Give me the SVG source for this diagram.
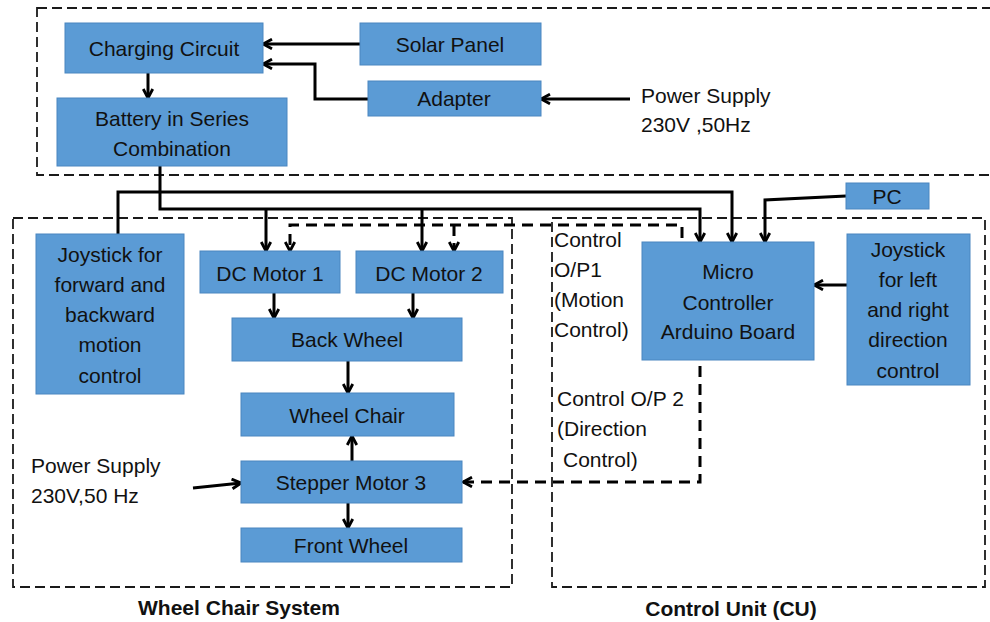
<svg xmlns="http://www.w3.org/2000/svg" width="990" height="622" viewBox="0 0 990 622">
<style>
  .grp { fill: none; stroke: #1a1a1a; stroke-width: 1.8; stroke-dasharray: 10 5; }
  .box { fill: #5B9BD5; stroke: #4A86C0; stroke-width: 1; }
  .t { font-family: "Liberation Sans", Arial, sans-serif; font-size: 21px; fill: #111; }
  .c { text-anchor: middle; }
  .b { font-weight: bold; }
  .ln { fill: none; stroke: #000; stroke-width: 3; stroke-linejoin: miter; }
  .dl { fill: none; stroke: #000; stroke-width: 3; stroke-dasharray: 11 7; }
</style>
<defs>
  <marker id="arr" viewBox="0 0 10 10" refX="9" refY="5" markerWidth="12" markerHeight="12" markerUnits="userSpaceOnUse" orient="auto">
    <path d="M1.5,1 L9,5 L1.5,9" fill="none" stroke="#000" stroke-width="2.4"/>
  </marker>
</defs>
<rect width="990" height="622" fill="#fff"/>

<g id="groups">
  <rect class="grp" x="37" y="8" width="970" height="167"/>
  <rect class="grp" x="13" y="218" width="499" height="369"/>
  <rect class="grp" x="552" y="218" width="433" height="369"/>
</g>

<g id="connectors">
  <path class="ln" d="M360,44 L263,44" marker-end="url(#arr)"/>
  <path class="ln" d="M368,99 L315,99 L315,64 L263,64" marker-end="url(#arr)"/>
  <path class="ln" d="M148,73 L148,98" marker-end="url(#arr)"/>
  <path class="ln" d="M630,99 L541,99" marker-end="url(#arr)"/>
  <path class="ln" d="M160,166 L160,209 L700,209 L700,242" marker-end="url(#arr)"/>
  <path class="ln" d="M266,209 L266,251" marker-end="url(#arr)"/>
  <path class="ln" d="M422,209 L422,251" marker-end="url(#arr)"/>
  <path class="ln" d="M118,234 L118,192 L732,192 L732,242" marker-end="url(#arr)"/>
  <path class="ln" d="M846,196 L765,200 L765,242" marker-end="url(#arr)"/>
  <path class="ln" d="M847,285 L814,285" marker-end="url(#arr)"/>
  <path class="ln" d="M274,293 L274,318" marker-end="url(#arr)"/>
  <path class="ln" d="M413,293 L413,318" marker-end="url(#arr)"/>
  <path class="ln" d="M348,361 L348,393" marker-end="url(#arr)"/>
  <path class="ln" d="M352,461 L352,436" marker-end="url(#arr)"/>
  <path class="ln" d="M348,503 L348,528" marker-end="url(#arr)"/>
  <path class="ln" d="M193,488 L241,483" marker-end="url(#arr)"/>
  <path class="dl" d="M682,238 L682,225 L290,225 L290,251" marker-end="url(#arr)"/>
  <path class="dl" d="M454,225 L454,251" marker-end="url(#arr)"/>
  <path class="dl" d="M700,348 L700,482 L463,482" marker-end="url(#arr)"/>
</g>

<g id="charging">
  <rect class="box" x="65" y="23" width="198" height="50"/>
  <text class="t c" x="164" y="56">Charging Circuit</text>
</g>
<g id="solar">
  <rect class="box" x="360" y="23" width="181" height="42"/>
  <text class="t c" x="450" y="52">Solar Panel</text>
</g>
<g id="adapter">
  <rect class="box" x="368" y="81" width="173" height="35"/>
  <text class="t c" x="454" y="106">Adapter</text>
</g>
<g id="battery">
  <rect class="box" x="57" y="98" width="230" height="68"/>
  <text class="t c" x="172" y="126">Battery in Series</text>
  <text class="t c" x="172" y="156">Combination</text>
</g>
<g id="power-top">
  <text class="t" x="641" y="103">Power Supply</text>
  <text class="t" x="641" y="132">230V ,50Hz</text>
</g>
<g id="joystick-fb">
  <rect class="box" x="36" y="234" width="148" height="160"/>
  <text class="t c" x="110" y="262">Joystick for</text>
  <text class="t c" x="110" y="292">forward and</text>
  <text class="t c" x="110" y="322">backward</text>
  <text class="t c" x="110" y="352">motion</text>
  <text class="t c" x="110" y="383">control</text>
</g>
<g id="dc1">
  <rect class="box" x="200" y="251" width="140" height="42"/>
  <text class="t c" x="270" y="281">DC Motor 1</text>
</g>
<g id="dc2">
  <rect class="box" x="356" y="251" width="147" height="42"/>
  <text class="t c" x="429" y="281">DC Motor 2</text>
</g>
<g id="backwheel">
  <rect class="box" x="232" y="318" width="230" height="43"/>
  <text class="t c" x="347" y="347">Back Wheel</text>
</g>
<g id="wheelchair">
  <rect class="box" x="241" y="393" width="213" height="43"/>
  <text class="t c" x="347" y="423">Wheel Chair</text>
</g>
<g id="stepper">
  <rect class="box" x="241" y="461" width="221" height="42"/>
  <text class="t c" x="351" y="490">Stepper Motor 3</text>
</g>
<g id="frontwheel">
  <rect class="box" x="241" y="528" width="221" height="34"/>
  <text class="t c" x="351" y="553">Front Wheel</text>
</g>
<g id="power-bottom">
  <text class="t" x="31" y="473">Power Supply</text>
  <text class="t" x="31" y="503">230V,50 Hz</text>
</g>
<g id="micro">
  <rect class="box" x="642" y="242" width="172" height="118"/>
  <text class="t c" x="728" y="279">Micro</text>
  <text class="t c" x="728" y="310">Controller</text>
  <text class="t c" x="728" y="339">Arduino Board</text>
</g>
<g id="joystick-lr">
  <rect class="box" x="847" y="234" width="123" height="151"/>
  <text class="t c" x="908" y="257">Joystick</text>
  <text class="t c" x="908" y="287">for left</text>
  <text class="t c" x="908" y="317">and right</text>
  <text class="t c" x="908" y="347">direction</text>
  <text class="t c" x="908" y="378">control</text>
</g>
<g id="pc">
  <rect class="box" x="846" y="183" width="83" height="26"/>
  <text class="t c" x="887" y="204">PC</text>
</g>
<g id="labels">
  <text class="t" x="554" y="247">Control</text>
  <text class="t" x="554" y="277">O/P1</text>
  <text class="t" x="554" y="307">(Motion</text>
  <text class="t" x="554" y="337">Control)</text>
  <text class="t" x="557" y="406">Control O/P 2</text>
  <text class="t" x="557" y="436">(Direction</text>
  <text class="t" x="563" y="467">Control)</text>
  <text class="t c b" x="239" y="615">Wheel Chair System</text>
  <text class="t c b" x="731" y="616">Control Unit (CU)</text>
</g>
</svg>
